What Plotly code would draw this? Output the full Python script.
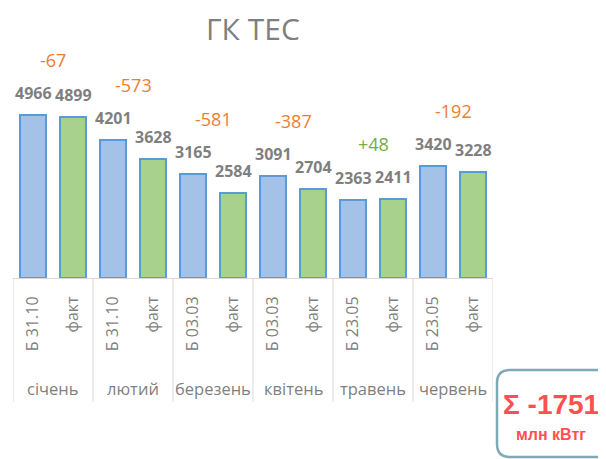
import plotly.graph_objects as go

# ---- data ----
months = ["січень", "лютий", "березень", "квітень", "травень", "червень"]
plan_labels = ["Б 31.10", "Б 31.10", "Б 03.03", "Б 03.03", "Б 23.05", "Б 23.05"]
fact_label = "факт"
plan_values = [4966, 4201, 3165, 3091, 2363, 3420]
fact_values = [4899, 3628, 2584, 2704, 2411, 3228]
total_label = "Σ -1751"
unit_label = "млн кВтг"
title_text = "ГК ТЕС"

# ---- styling ----
OFF = 8  # page body margin
W, H = 606, 459
ML, MT = 13 - OFF, 48 - OFF
PW, PH = 480, 230
MR = W - ML - PW
MB = H - MT - PH
FONT = "Open Sans"
GRAY = "#7f7f7f"
LINE = "#d9d9d9"


def px(xp):  # reference page x -> paper
    return (xp - OFF - ML) / PW


def py(yp):  # reference page y -> paper
    return (MT + PH - (yp - OFF)) / PH


n = len(months)
x_plan = [2 * i for i in range(n)]
x_fact = [2 * i + 1 for i in range(n)]

fig = go.Figure()
fig.add_trace(go.Bar(x=x_plan, y=plan_values, width=0.64,
                     marker=dict(color="#a4c2e8", line=dict(color="#5b9bd5", width=2)),
                     hoverinfo="y", showlegend=False))
fig.add_trace(go.Bar(x=x_fact, y=fact_values, width=0.64,
                     marker=dict(color="#a9d18e", line=dict(color="#5b9bd5", width=2)),
                     hoverinfo="y", showlegend=False))

annotations = []
# value labels
for xs, vals in ((x_plan, plan_values), (x_fact, fact_values)):
    for x, v in zip(xs, vals):
        annotations.append(dict(x=x, y=v, xref="x", yref="y", text=f"<b>{v}</b>",
                                showarrow=False, yanchor="middle", yshift=22,
                                font=dict(family=FONT, size=16, color=GRAY)))
# difference labels
for i in range(n):
    d = fact_values[i] - plan_values[i]
    col = "#70ad47" if d > 0 else "#ed7d31"
    txt = f"+{d}" if d > 0 else f"{d}"
    annotations.append(dict(x=2 * i + 0.5, y=max(plan_values[i], fact_values[i]),
                            xref="x", yref="y", text=txt, showarrow=False,
                            yanchor="middle", yshift=55,
                            font=dict(family=FONT, size=18, color=col)))
# month labels
for i, m in enumerate(months):
    annotations.append(dict(x=2 * i + 0.5, y=py(388), xref="x", yref="paper",
                            text=m, showarrow=False, yanchor="middle",
                            font=dict(family=FONT, size=16.5, color=GRAY)))

# title
annotations.append(dict(x=px(253), y=py(28), xref="paper", yref="paper", text=title_text,
                        showarrow=False, xanchor="center", yanchor="middle",
                        font=dict(family=FONT, size=30, color=GRAY)))

# total box text
annotations.append(dict(x=px(551), y=py(404), xref="paper", yref="paper", text=f"<b>{total_label}</b>",
                        showarrow=False, xanchor="center", yanchor="middle",
                        font=dict(family="Liberation Sans", size=28, color="#ff5050")))
annotations.append(dict(x=px(551), y=py(434), xref="paper", yref="paper", text=f"<b>{unit_label}</b>",
                        showarrow=False, xanchor="center", yanchor="middle",
                        font=dict(family="Liberation Sans", size=16, color="#ff5050")))

shapes = []
for k in range(n + 1):
    shapes.append(dict(type="line", xref="x", yref="paper", x0=2 * k - 0.5, x1=2 * k - 0.5,
                       y0=0, y1=py(402), line=dict(color=LINE, width=1)))

# rounded rectangle for the total
x0, x1, y0, y1, r = 497, 620, 370, 457, 13
path = (f"M {px(x0 + r)},{py(y0)} L {px(x1 - r)},{py(y0)} "
        f"Q {px(x1)},{py(y0)} {px(x1)},{py(y0 + r)} L {px(x1)},{py(y1 - r)} "
        f"Q {px(x1)},{py(y1)} {px(x1 - r)},{py(y1)} L {px(x0 + r)},{py(y1)} "
        f"Q {px(x0)},{py(y1)} {px(x0)},{py(y1 - r)} L {px(x0)},{py(y0 + r)} "
        f"Q {px(x0)},{py(y0)} {px(x0 + r)},{py(y0)} Z")
shapes.append(dict(type="path", xref="paper", yref="paper", path=path,
                   line=dict(color="#80a9b6", width=2.5), fillcolor="rgba(0,0,0,0)"))

tickvals = []
ticktext = []
for i in range(n):
    tickvals += [2 * i, 2 * i + 1]
    ticktext += [plan_labels[i], fact_label]

fig.update_layout(
    width=W, height=H,
    margin=dict(l=ML, r=MR, t=MT, b=MB),
    paper_bgcolor="white", plot_bgcolor="white",
    xaxis=dict(range=[-0.5, 2 * n - 0.5], tickvals=tickvals, ticktext=ticktext,
               tickangle=-90, ticks="outside", ticklen=11, tickcolor="rgba(0,0,0,0)",
               showline=True, linecolor=LINE, linewidth=1, showgrid=False, zeroline=False,
               tickfont=dict(family=FONT, size=16, color=GRAY), fixedrange=True),
    yaxis=dict(range=[0, 7000], visible=False, showgrid=False, zeroline=False, fixedrange=True),
    annotations=annotations, shapes=shapes, bargap=0,
)

fig.write_html("out.html")
